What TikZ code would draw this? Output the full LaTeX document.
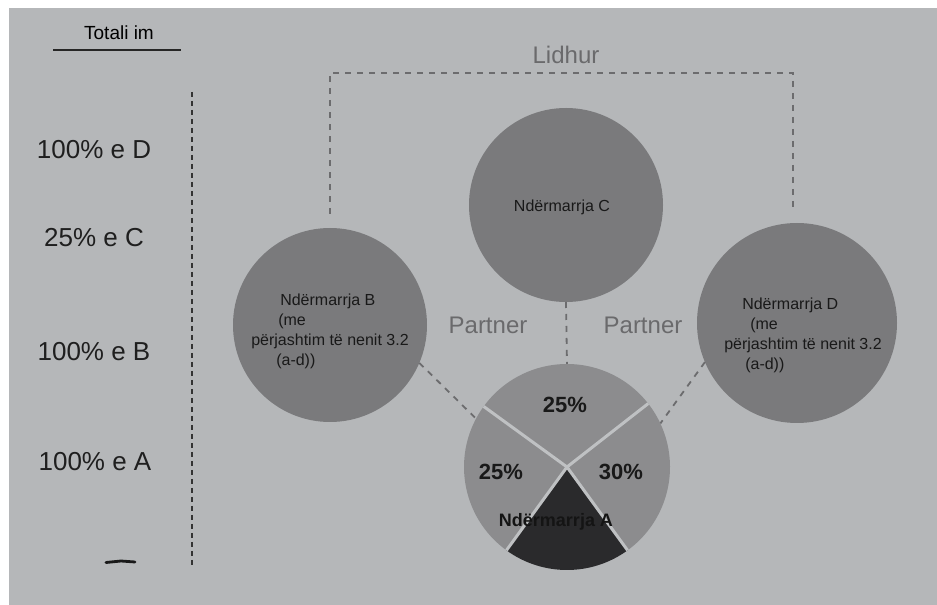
\documentclass[tikz,border=0pt]{standalone}
\usepackage{fontspec}
\setmainfont{Liberation Sans}
\usepackage{tikz}
\usetikzlibrary{arrows,shapes}

\definecolor{panelgray}{HTML}{B5B7B9}
\definecolor{firmgray}{HTML}{7A7A7C}
\definecolor{slicegray}{HTML}{8C8C8E}
\definecolor{darkslice}{HTML}{2A2A2C}
\definecolor{linkgray}{HTML}{6C6C6E}
\definecolor{taggray}{HTML}{6A6A6C}
\definecolor{gapgray}{HTML}{BFC1C3}

\begin{document}
\begin{tikzpicture}[x=1pt, y=1pt, thick, every node/.style={inner sep=0pt}]

\tikzstyle{firm} = [circle, fill=firmgray, minimum size=194pt, inner sep=0pt, outer sep=0pt]
\tikzstyle{firmtext} = [align=left, font=\fontsize{16}{20}\selectfont, text=black!90]
\tikzstyle{share} = [font=\fontsize{26}{30}\selectfont, text=black!88]
\tikzstyle{pct} = [font=\bfseries\fontsize{22}{26}\selectfont, text=black!90]
\tikzstyle{tag} = [font=\fontsize{24}{28}\selectfont, text=taggray]
\tikzstyle{link} = [draw=linkgray, line width=1.8pt, dash pattern=on 6pt off 6pt]
\tikzstyle{axis} = [draw=black!80, line width=1.8pt, dash pattern=on 5pt off 4pt]
\tikzstyle{gap} = [draw=gapgray, line width=3pt]

    % Background
    \useasboundingbox (0,0) rectangle (937,605);
    \fill[white] (0,0) rectangle (937,605);
    \fill[panelgray] (9,-5) rectangle (942,597);

    % Left column
    \node (total) at (119,572) {\fontsize{19}{22}\selectfont Totali im};
    \draw[line width=2.5pt, black!85] (53,555) -- (181,555);
    \node [share] (shareD) at (94,455) {100\% e D};
    \node [share] (shareC) at (94,367) {25\% e C};
    \node [share] (shareB) at (94,253) {100\% e B};
    \node [share] (shareA) at (95,143) {100\% e A};
    \coordinate (axisTop) at (192,513);
    \coordinate (axisBot) at (192,40);
    \path [axis] (axisTop) -- (axisBot);
    \draw[line width=2.8pt, black!90, line cap=round] (106,42.5) -- (121,44) -- (135,43);

    % Place nodes
    \node [firm] (firmB) at (330,280) {};
    \node [firm] (firmC) at (566,400) {};
    \node [firm, minimum size=200pt] (firmD) at (797,282) {};
    \node [circle, minimum size=206pt, outer sep=0pt] (firmA) at (567,138) {};
    \node [firmtext] (textB) at ([yshift=-6pt]firmB.center)
        {\hspace*{29pt}Ndërmarrja B\\ \hspace*{27pt}(me\\ përjashtim të nenit 3.2\\ \hspace*{25pt}(a-d))};
    \node [firmtext] (textC) at ([xshift=-4pt,yshift=-2pt]firmC.center) {Ndërmarrja C};
    \node [firmtext] (textD) at ([xshift=6pt,yshift=-12pt]firmD.center)
        {\hspace*{18pt}Ndërmarrja D\\ \hspace*{26pt}(me\\ përjashtim të nenit 3.2\\ \hspace*{21pt}(a-d))};
    \node [tag] (lidhur) at (566,550) {Lidhur};
    \node [tag] (partnerL) at (488,280) {Partner};
    \node [tag] (partnerR) at (643,280) {Partner};

    % Draw edges
    \coordinate (linkTop) at (566,532);
    \path [link] ([yshift=14pt]firmB.north) |- (linkTop) -| ([xshift=-4pt,yshift=12pt]firmD.north);
    \path [link] (firmC.south) -- (firmA.north);
    \path [link] (firmB.-23) -- (firmA.152);
    \path [link] (firmD.203) -- (firmA.25);

    % Pie of firm A
    \fill[slicegray] (firmA.center) -- (firmA.38) arc[start angle=38, end angle=144, radius=103] -- cycle;
    \fill[slicegray] (firmA.center) -- (firmA.144) arc[start angle=144, end angle=234, radius=103] -- cycle;
    \fill[slicegray] (firmA.center) -- (firmA.306) arc[start angle=306, end angle=398, radius=103] -- cycle;
    \fill[darkslice] (firmA.center) -- (firmA.234) arc[start angle=234, end angle=306, radius=103] -- cycle;
    \foreach \a in {38,144,234,306}
        \path [gap] (firmA.center) -- (firmA.\a);
    \node [pct] (pctC) at (565,200) {25\%};
    \node [pct] (pctB) at (501,133) {25\%};
    \node [pct] (pctD) at (621,133) {30\%};
    \node [font=\bfseries\fontsize{18}{22}\selectfont, text=black!92] (textA) at (556,83) {Ndërmarrja A};
\end{tikzpicture}
\end{document}
